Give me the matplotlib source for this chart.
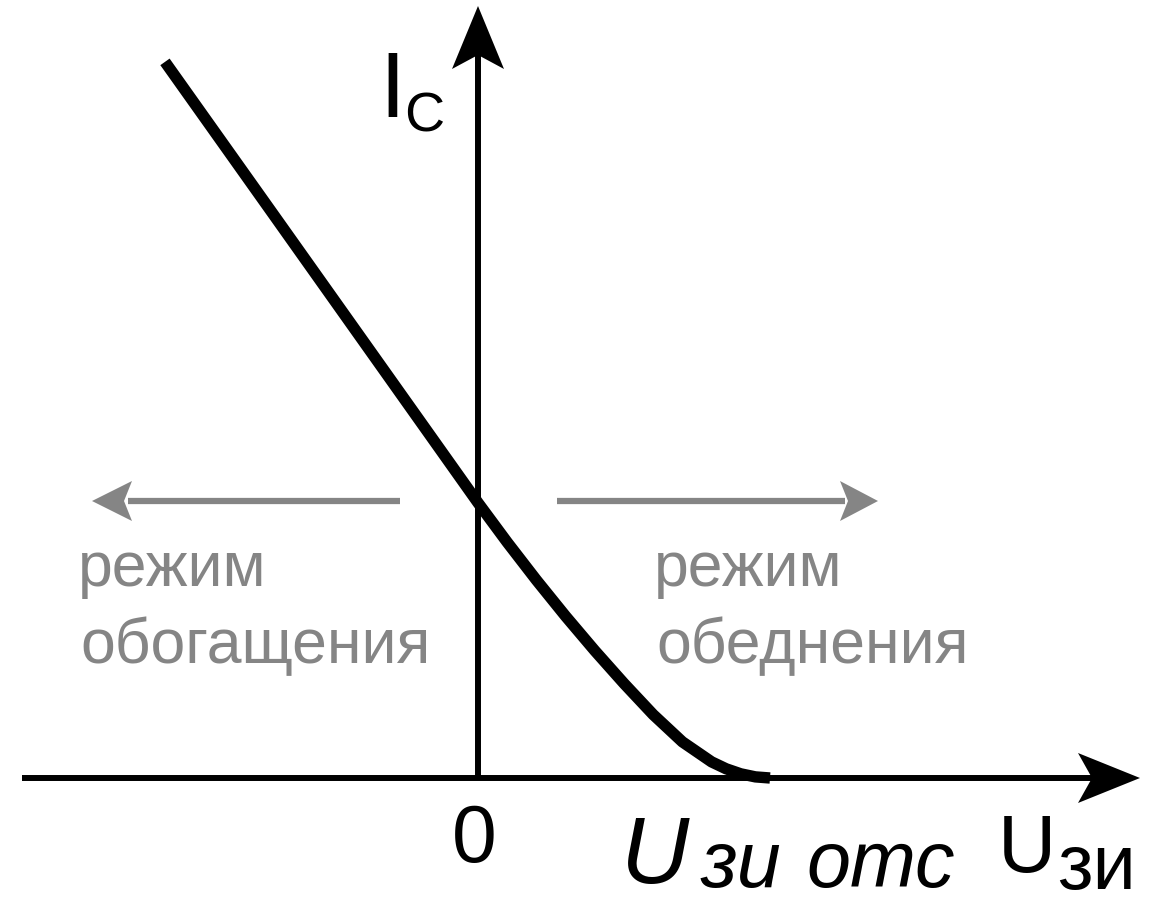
import matplotlib
matplotlib.use("Agg")
import matplotlib.pyplot as plt
from matplotlib.patches import Polygon
from matplotlib.transforms import Affine2D

# ---- data (gate voltage U, drain current I; U_cutoff = 1, I(0) = 1) ----
u_vals = [-1.072, -0.70, -0.35, 0.0, 0.1, 0.2, 0.3, 0.4, 0.5, 0.6,
          0.7, 0.8, 0.85, 0.9, 0.95, 1.0]
i_vals = [2.576, 2.026, 1.508, 0.99, 0.848, 0.712, 0.582, 0.458, 0.340,
          0.228, 0.130, 0.058, 0.033, 0.015, 0.004, 0.0]

label_origin = "0"
label_cutoff_main, label_cutoff_sub1, label_cutoff_sub2 = "U", "зи", "отс"
label_x_main, label_x_sub = "U", "зи"
label_y_main, label_y_sub = "I", "С"
left_mode = ["режим", "обогащения"]
right_mode = ["режим", "обеднения"]

W, H = 1155, 905
fig = plt.figure(figsize=(W / 100, H / 100), dpi=100)
fig.patch.set_facecolor("white")
ax = fig.add_axes([0, 0, 1, 1])
ax.set_axis_off()

# data scaling: U=0 -> px 478, U=1 -> px 770 ; I=0 -> px 778, I=1 -> px 500
x0, xs = 478, 292.0
y0, ys = 778, 278.0
ax.set_xlim(-x0 / xs, (W - x0) / xs)
ax.set_ylim((y0 - H) / ys, y0 / ys)

# pixel transform (origin top-left)
px = Affine2D().scale(1 / W, -1 / H).translate(0, 1) + ax.transAxes

BLACK = "black"
GRAY = "#858585"

# axes lines
ax.plot([22, 1100], [778, 778], color=BLACK, lw=4.3, transform=px,
        solid_capstyle="butt")
ax.plot([478, 478], [778, 50], color=BLACK, lw=4.3, transform=px,
        solid_capstyle="butt")
# arrowheads (barbed)
ax.add_patch(Polygon([[1140, 778], [1078, 753], [1092, 778], [1078, 803]],
                     closed=True, color=BLACK, transform=px, lw=0))
ax.add_patch(Polygon([[478, 6], [452, 69], [478, 55], [504, 69]],
                     closed=True, color=BLACK, transform=px, lw=0))

# gray mode arrows
ax.plot([128, 400], [501, 501], color=GRAY, lw=4.5, transform=px,
        solid_capstyle="butt")
ax.add_patch(Polygon([[92, 501], [132, 481], [124, 501], [132, 521]],
                     closed=True, color=GRAY, transform=px, lw=0))
ax.plot([557, 845], [501, 501], color=GRAY, lw=4.5, transform=px,
        solid_capstyle="butt")
ax.add_patch(Polygon([[878, 501], [840, 481], [848, 501], [840, 521]],
                     closed=True, color=GRAY, transform=px, lw=0))

# transfer characteristic
ax.plot(u_vals, i_vals, color=BLACK, lw=8.2, solid_capstyle="butt",
        solid_joinstyle="round")

REG = ["Liberation Sans", "DejaVu Sans"]

def t(x, y, s, size, style="normal", color=BLACK, ha="left"):
    ax.text(x, y, s, transform=px, fontsize=size, family=REG,
            style=style, color=color, ha=ha, va="baseline")

# axis labels
t(379, 117, label_y_main, 67)
t(404, 132, label_y_sub, 40)
t(474, 862, label_origin, 58, ha="center")
t(621, 883, label_cutoff_main, 68, style="italic")
t(700, 887, label_cutoff_sub1, 57, style="italic")
t(806, 887, label_cutoff_sub2, 57, style="italic")
t(998, 872, label_x_main, 58)
t(1057, 889, label_x_sub, 56)

# mode captions
t(78, 586, left_mode[0], 45, color=GRAY)
t(80, 663, left_mode[1], 45, color=GRAY)
t(654, 586, right_mode[0], 45, color=GRAY)
t(656, 663, right_mode[1], 45, color=GRAY)

fig.savefig("out.png", dpi=100, facecolor="white")
